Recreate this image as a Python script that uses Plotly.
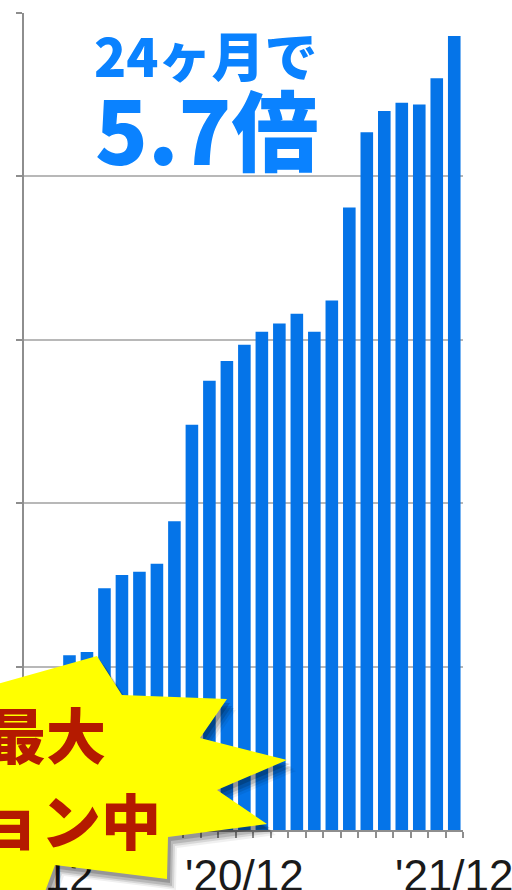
import plotly.graph_objects as go

# ---- data ----
months = ["'19/12", "'20/01", "'20/02", "'20/03", "'20/04", "'20/05", "'20/06", "'20/07",
          "'20/08", "'20/09", "'20/10", "'20/11", "'20/12", "'21/01", "'21/02", "'21/03",
          "'21/04", "'21/05", "'21/06", "'21/07", "'21/08", "'21/09", "'21/10", "'21/11", "'21/12"]
values = [0.85, 0.93, 1.07, 1.09, 1.48, 1.56, 1.58, 1.63, 1.89, 2.48, 2.75, 2.87, 2.97,
          3.05, 3.10, 3.16, 3.05, 3.24, 3.81, 4.27, 4.40, 4.45, 4.44, 4.60, 4.86]
label_months = ["'19/12", "'20/12", "'21/12"]

W, H = 512, 890
L, R, T, B = 24, 49, 13, 60
PW, PH = W - L - R, H - T - B

def px(x):
    return (x - L) / PW

def py(y):
    return (H - B - y) / PH

x_idx = list(range(len(months)))
tick_idx = [months.index(m) for m in label_months]

fig = go.Figure()
fig.add_trace(go.Bar(x=x_idx, y=values, width=0.72, marker=dict(color="#0574E8", line=dict(width=0)),
                     hoverinfo="skip"))

# starburst decoration (pixel outline)
star = [(-60, 700), (97, 656), (122, 695), (227, 699), (200, 738), (287, 760), (217, 790),
        (267, 824), (168, 837), (167, 879), (55, 865), (40, 905), (-60, 905)]

def star_path(dx, dy):
    pts = [(px(x + dx), py(y + dy)) for x, y in star]
    return "M " + " L ".join(f"{a:.5f},{b:.5f}" for a, b in pts) + " Z"

shapes = []
for dx, dy, op in [(9, 11, 0.06), (7, 9, 0.10), (5, 7, 0.14), (3, 4, 0.18)]:
    shapes.append(dict(type="path", xref="paper", yref="paper", path=star_path(dx, dy),
                       fillcolor=f"rgba(0,0,0,{op})", line=dict(width=0), layer="above"))
shapes.append(dict(type="path", xref="paper", yref="paper", path=star_path(0, 0),
                   fillcolor="#FFFF00", line=dict(width=0), layer="above"))

red = "#B41A00"
blue = "#0A82FF"
jp = "Noto Sans CJK JP"
annotations = [
    dict(text="24ヶ月で", x=px(92), y=py(54), xref="paper", yref="paper", xanchor="left",
         yanchor="middle", showarrow=False, font=dict(family=jp, size=53, color=blue, weight=900)),
    dict(text="5.7倍", x=px(93), y=py(127), xref="paper", yref="paper", xanchor="left",
         yanchor="middle", showarrow=False, font=dict(family=jp, size=87, color=blue, weight=900)),
    dict(text="最大", x=px(108), y=py(732), xref="paper", yref="paper", xanchor="right",
         yanchor="middle", showarrow=False, font=dict(family=jp, size=60, color=red, weight=900)),
    dict(text="ョン中", x=px(163), y=py(818), xref="paper", yref="paper", xanchor="right",
         yanchor="middle", showarrow=False, font=dict(family=jp, size=60, color=red, weight=900)),
]

fig.update_layout(
    width=W, height=H, margin=dict(l=L, r=R, t=T, b=B, pad=0),
    paper_bgcolor="white", plot_bgcolor="white", showlegend=False, template="none",
    shapes=shapes, annotations=annotations, bargap=0.28,
)
fig.update_xaxes(
    range=[-0.6, 24.5], tickmode="array", tickvals=tick_idx, ticktext=label_months,
    ticks="", showgrid=False, zeroline=False, showline=True, linecolor="#8E8E8E", linewidth=2,
    tickfont=dict(family="Liberation Sans", size=44, color="#1A1A1A"),
    ticklabelstandoff=6, ticklabeloverflow="allow", automargin=False,
    minor=dict(ticks="outside", tickmode="linear", tick0=0.5, dtick=1, ticklen=6,
               tickcolor="#8E8E8E", tickwidth=2, showgrid=False),
    fixedrange=True,
)
fig.update_yaxes(
    range=[0, 5], tickmode="linear", tick0=0, dtick=1, showticklabels=False,
    ticks="outside", ticklen=6, tickcolor="#8E8E8E", tickwidth=2,
    showgrid=True, gridcolor="#B8B8B8", gridwidth=2, zeroline=False,
    showline=True, linecolor="#8E8E8E", linewidth=2, automargin=False, fixedrange=True,
)

fig.write_html("out.html", config={"displayModeBar": False},
               post_script="document.body.style.margin='0';document.body.style.overflow='hidden';")
